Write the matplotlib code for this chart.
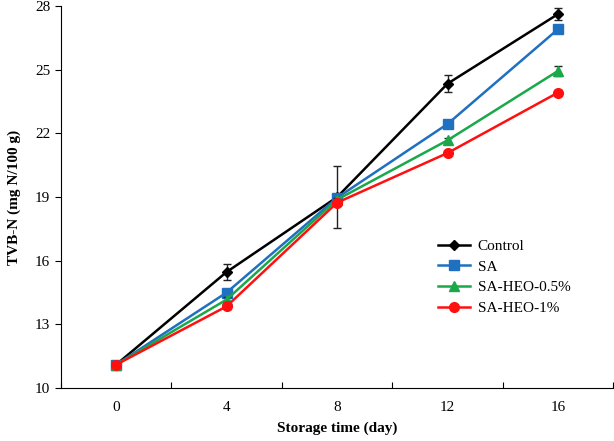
import numpy as np
import matplotlib
matplotlib.use('Agg')
import matplotlib.pyplot as plt

days = [0, 4, 8, 12, 16]
labels = ['Control', 'SA', 'SA-HEO-0.5%', 'SA-HEO-1%']
control = [11.1, 15.47, 19.0, 24.35, 27.63]
control_err = [0.05, 0.36, 1.45, 0.4, 0.3]
sa = [11.1, 14.5, 18.97, 22.45, 26.92]
sa_err = [0.05, 0.12, 0.1, 0.18, 0.1]
heo05 = [11.1, 14.17, 18.88, 21.68, 24.95]
heo05_err = [0.05, 0.1, 0.1, 0.12, 0.25]
heo1 = [11.1, 13.85, 18.74, 21.08, 23.93]
heo1_err = [0.05, 0.1, 0.1, 0.1, 0.1]

colors = ['black', '#1f70c1', '#1aa84a', '#ff1010']
markers = ['D', 's', '^', 'o']
msizes = [5, 6.5, 6.5, 7]

plt.rcParams['font.family'] = ['Liberation Serif', 'DejaVu Serif']

fig = plt.figure(figsize=(6.14, 4.41), dpi=100)
ax = fig.add_axes([0.099, 0.12, 0.9, 0.866])

series = [control, sa, heo05, heo1]
errs = [control_err, sa_err, heo05_err, heo1_err]
handles = []
for i in range(4):
    c = ax.errorbar(days, series[i], yerr=errs[i], color=colors[i], marker=markers[i],
                    markersize=msizes[i], linewidth=1.8, ecolor='#222222', elinewidth=1,
                    capsize=3, capthick=1, label=labels[i], zorder=3 + i)
    handles.append(c[0])

ax.set_xlim(-2, 18)
ax.set_ylim(10, 28)
ax.set_yticks(np.arange(10, 29, 3))
ax.set_xticks([-2, 2, 6, 10, 14, 18])
ax.set_xticklabels([])
ax.set_xticks(days, minor=True)
ax.set_xticklabels([str(d) for d in days], minor=True)
ax.tick_params(axis='x', which='minor', length=0, pad=9, labelsize=11)
ax.tick_params(axis='x', which='major', length=4, direction='in')
ax.tick_params(axis='y', length=4, direction='out', labelsize=11)
ax.spines['top'].set_visible(False)
ax.spines['right'].set_visible(False)
ax.set_xlabel('Storage time (day)', fontweight='bold', fontsize=11, labelpad=6)
ax.set_ylabel('TVB-N (mg N/100 g)', fontweight='bold', fontsize=11, labelpad=10)

ax.legend(handles, labels, loc='upper left', bbox_to_anchor=(0.658, 0.425), frameon=False,
          fontsize=11, handlelength=2.1, handletextpad=0.5, labelspacing=0.45)

fig.savefig('out.png', dpi=100)
